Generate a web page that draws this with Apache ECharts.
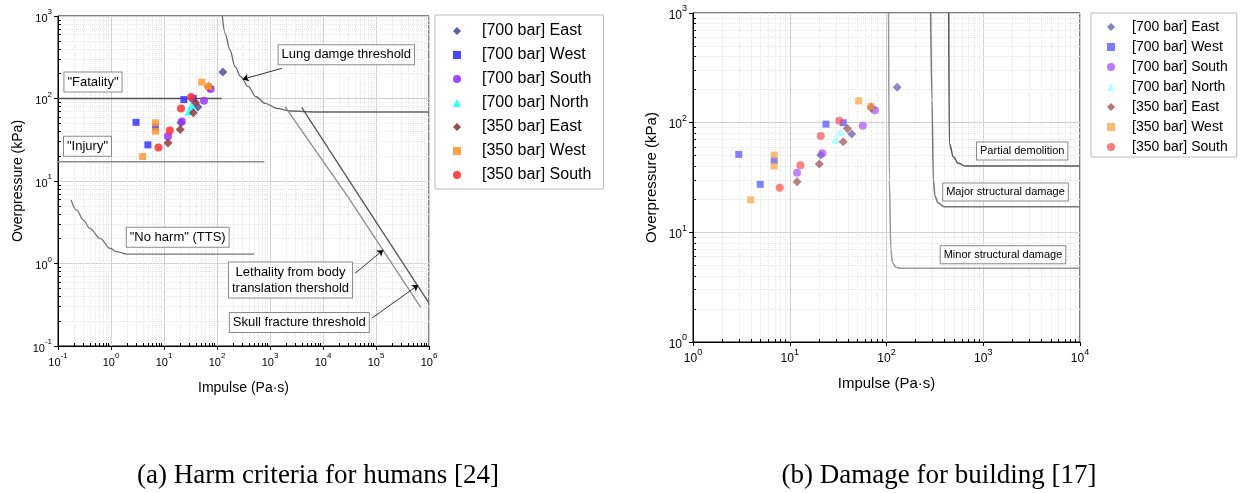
<!DOCTYPE html>
<html>
<head>
<meta charset="utf-8">
<script src="https://cdn.jsdelivr.net/npm/echarts@6/dist/echarts.min.js"></script>
<style>
  html, body { margin: 0; padding: 0; background: #fff; }
  #chart { width: 1243px; height: 493px; }
</style>
</head>
<body>
<div id="chart"></div>
<script>
// series names (same in both panels)
const seriesNames = ['[700 bar] East', '[700 bar] West', '[700 bar] South', '[700 bar] North',
  '[350 bar] East', '[350 bar] West', '[350 bar] South'];

// measured points: [impulse (Pa·s), overpressure (kPa)]
const east700 = [[129, 210], [70, 135], [43.7, 78.7], [20.9, 50.7]];
const west700 = [[2.97, 51.4], [6.9, 45], [4.96, 27.4], [23.7, 97], [35.7, 99.8]];
const south700 = [[76, 130], [56.8, 93.8], [21.7, 52.5], [11.9, 34.9]];
const north700 = [[33.6, 82.6], [29.9, 70.5]];
const east350 = [[69.2, 140], [39.4, 88.7], [35.7, 67], [20.2, 42], [11.9, 28.9]];
const west350 = [[51.6, 158], [69, 140], [6.9, 50.7], [6.9, 40.2], [3.95, 19.8]];
const south350 = [[32.5, 104], [20.9, 75.5], [12.9, 41], [7.87, 25.5]];

// (a) harm criteria curves
const lungDamage = [[126, 1000], [142, 617], [176, 387], [219, 243], [280, 184], [390, 139], [545, 105],
  [805, 87.5], [1340, 76], [2380, 70.5], [7590, 68.6], [1e6, 68.6]];
const fatality = [[0.1, 100], [123, 100]];
const injury = [[0.1, 17.1], [781, 17.1]];
const noHarm = [[0.176, 5.9], [0.225, 4.44], [0.30, 3.36], [0.40, 2.67], [0.62, 2.02], [0.96, 1.53],
  [1.28, 1.39], [1.98, 1.30], [506, 1.30]];
const bodyTranslation = [[1919, 79.6], [32300, 5.89], [697000, 0.294]];
const skullFracture = [[3960, 78.2], [53700, 5.89], [1e6, 0.33]];

// (b) building damage curves
const minorDamage = [[105, 1000], [107, 30], [111, 7], [115, 5.3], [125, 4.8], [140, 4.7], [1e4, 4.7]];
const majorDamage = [[286, 1000], [295, 161], [305, 30], [317, 21.4], [341, 18.5], [393, 17.1], [1e4, 17.1]];
const partialDemolition = [[440, 1000], [446, 65], [490, 48.9], [552, 42.6], [648, 40.2], [1e4, 40.2]];

const pointSets = [east700, west700, south700, north700, east350, west350, south350];
const symbols = ['diamond', 'rect', 'circle', 'triangle', 'diamond', 'rect', 'circle'];
const sizes = [9, 7, 8, 9, 9, 7, 8];
const colorsA = ['#4d4d99', '#3333ff', '#9933ff', '#22ffff', '#8c3a3a', '#ff9933', '#ff3333'];
const colorsB = ['#5a5aa6', '#4d4dff', '#a64dff', '#99ffff', '#9a4a4a', '#ffa040', '#ff4d4d'];

const FONT = '"Liberation Sans", Arial, sans-serif';

// minor grid values k*10^n between min and max
function minorValues(min, max) {
  const out = [];
  for (let e = Math.floor(Math.log10(min)); e < Math.log10(max); e++) {
    for (let k = 2; k <= 9; k++) {
      const v = k * Math.pow(10, e);
      if (v > min && v < max) out.push(v);
    }
  }
  return out;
}

function powLabel(v) {
  const e = Math.round(Math.log10(v));
  return '{b|10}{s|' + e + '}';
}

function logAxis(gridIndex, min, max, split, name, gap, fs, nfs) {
  return {
    type: 'log', logBase: 10, gridIndex, min, max, splitNumber: split,
    name, nameLocation: 'middle', nameGap: gap,
    nameTextStyle: { fontSize: nfs, fontFamily: FONT, color: '#000' },
    axisLine: { lineStyle: { color: '#000', width: 1 } },
    axisTick: { length: 4, lineStyle: { color: '#000' } },
    axisLabel: {
      formatter: powLabel, color: '#000', margin: 6,
      rich: {
        b: { fontSize: fs, fontFamily: FONT, lineHeight: fs + 5, verticalAlign: 'bottom', color: '#000' },
        s: { fontSize: fs - 3, fontFamily: FONT, lineHeight: fs + 5, verticalAlign: 'top', color: '#000' }
      }
    },
    splitLine: { show: true, lineStyle: { color: '#d2d2d2', width: 1 } }
  };
}

// dotted minor grid + short inside minor ticks, on an empty helper series
function minorGrid(idx, xmin, xmax, ymin, ymax, w, h) {
  const xs = minorValues(xmin, xmax), ys = minorValues(ymin, ymax);
  const fy = Math.pow(10, 3 * Math.log10(ymax / ymin) / h);
  const fx = Math.pow(10, 3 * Math.log10(xmax / xmin) / w);
  return [{
    type: 'line', xAxisIndex: idx, yAxisIndex: idx, data: [], z: 1, silent: true,
    markLine: {
      z: 0, silent: true, symbol: 'none', animation: false, label: { show: false },
      lineStyle: { color: '#e6e6e6', type: 'dotted', width: 1 },
      data: xs.map(v => ({ xAxis: v })).concat(ys.map(v => ({ yAxis: v })))
    }
  }, {
    type: 'line', xAxisIndex: idx, yAxisIndex: idx, data: [], z: 1, silent: true,
    markLine: {
      z: 1, silent: true, symbol: 'none', animation: false, label: { show: false },
      lineStyle: { color: '#000', type: 'solid', width: 1 },
      data: xs.map(v => [{ coord: [v, ymin] }, { coord: [v, ymin * fy] }])
        .concat(ys.map(v => [{ coord: [xmin, v] }, { coord: [xmin * fx, v] }]))
    }
  }];
}

function curve(idx, data, color, width, smooth, extra) {
  return Object.assign({
    type: 'line', xAxisIndex: idx, yAxisIndex: idx, data, showSymbol: false, symbol: 'none',
    smooth: smooth ? 0.35 : false, smoothMonotone: 'x', z: 2, silent: true,
    lineStyle: { color, width }
  }, extra || {});
}

const scatterA = pointSets.map((d, i) => ({
  type: 'scatter', name: seriesNames[i], xAxisIndex: 0, yAxisIndex: 0, data: d, z: 3,
  symbol: symbols[i], symbolSize: sizes[i],
  itemStyle: { color: colorsA[i], opacity: 0.85 }
}));
const scatterB = pointSets.map((d, i) => ({
  type: 'scatter', name: seriesNames[i], xAxisIndex: 1, yAxisIndex: 1, data: d, z: 3,
  symbol: symbols[i], symbolSize: sizes[i],
  itemStyle: { color: colorsB[i], opacity: 0.7 }
}));

const arrowStyle = {
  silent: true, symbol: ['none', 'arrow'], symbolSize: 6, animation: false,
  label: { show: false }, lineStyle: { color: '#000', width: 0.8, type: 'solid' }
};

function legendFor(left, top, fs, gap, pad, txtPad, colors, opacity) {
  return {
    orient: 'vertical', left, top, itemWidth: 8, itemHeight: 8, itemGap: gap,
    padding: pad, borderColor: '#bbb', borderWidth: 1,
    selectedMode: false,
    data: seriesNames.map((n, i) => ({
      name: n, icon: symbols[i],
      itemStyle: { color: colors[i], opacity }
    })),
    formatter: '{t|{name}}',
    textStyle: {
      color: '#000', fontFamily: FONT, fontSize: fs,
      rich: { t: { fontSize: fs, fontFamily: FONT, color: '#000', lineHeight: fs, padding: [0, 0, 0, txtPad] } }
    }
  };
}

function box(cx, cy, text, fs) {
  return {
    type: 'text', x: cx, y: cy, z: 10, silent: true,
    style: {
      text, font: fs + 'px ' + FONT, fill: '#000', align: 'center', verticalAlign: 'middle',
      backgroundColor: '#fff', borderColor: '#8a8a8a', borderWidth: 1, padding: [2, 3, 1, 3],
      lineHeight: fs + 3
    }
  };
}

const option = {
  animation: false,
  backgroundColor: '#fff',
  grid: [
    { left: 58, top: 16, width: 371, height: 330, show: true, borderColor: '#000', borderWidth: 1 },
    { left: 693, top: 13, width: 387, height: 329, show: true, borderColor: '#000', borderWidth: 1 }
  ],
  xAxis: [
    logAxis(0, 0.1, 1e6, 7, 'Impulse (Pa·s)', 35, 11, 14),
    logAxis(1, 1, 1e4, 4, 'Impulse (Pa·s)', 34, 12, 15)
  ],
  yAxis: [
    logAxis(0, 0.1, 1000, 4, 'Overpressure (kPa)', 33, 11, 14),
    logAxis(1, 1, 1000, 3, 'Overpressure (kPa)', 34, 12, 15)
  ],
  legend: [
    legendFor(435, 15, 16, 8, [8, 12, 6, 18], 16, colorsA, 0.9),
    legendFor(1091, 13, 14, 6, [7, 9, 3, 16], 12, colorsB, 0.75)
  ],
  series: [].concat(
    minorGrid(0, 0.1, 1e6, 0.1, 1000, 371, 330),
    minorGrid(1, 1, 1e4, 1, 1000, 387, 329),
    [
      curve(0, fatality, '#555', 1.5, false),
      curve(0, injury, '#8c8c8c', 1.5, false),
      curve(0, lungDamage, '#666', 1.3, true, {
        markLine: Object.assign({}, arrowStyle, {
          data: [
            [{ coord: [1663, 232] }, { coord: [305, 171] }],
            [{ coord: [40200, 0.76] }, { coord: [137000, 1.46] }],
            [{ coord: [83000, 0.217] }, { coord: [628000, 0.548] }]
          ]
        })
      }),
      curve(0, noHarm, '#777', 1.3, true),
      curve(0, bodyTranslation, '#8c8c8c', 1.3, false),
      curve(0, skullFracture, '#555', 1.3, false),
      curve(1, minorDamage, '#999', 1.5, true),
      curve(1, majorDamage, '#777', 1.5, true),
      curve(1, partialDemolition, '#555', 1.5, true)
    ],
    scatterA, scatterB
  ),
  graphic: [
    box(346.3, 54.7, 'Lung damge threshold', 13),
    box(93, 82, '"Fatality"', 13),
    box(87.5, 146.3, '"Injury"', 13),
    box(177.7, 237.2, '"No harm" (TTS)', 13),
    box(290.5, 280, 'Lethality from body\ntranslation thershold', 13),
    box(299.3, 322.5, 'Skull fracture threshold', 13),
    box(1022.2, 151, 'Partial demolition', 11),
    box(1005.5, 192, 'Major structural damage', 11),
    box(1003, 254.7, 'Minor structural damage', 11),
    {
      type: 'text', x: 318, y: 476, silent: true,
      style: { text: '(a) Harm criteria for humans [24]', font: '27px "Liberation Serif", serif',
        fill: '#000', align: 'center', verticalAlign: 'middle' }
    },
    {
      type: 'text', x: 939, y: 476, silent: true,
      style: { text: '(b) Damage for building [17]', font: '27px "Liberation Serif", serif',
        fill: '#000', align: 'center', verticalAlign: 'middle' }
    }
  ]
};

const chart = echarts.init(document.getElementById('chart'));
chart.setOption(option);
window.addEventListener('resize', () => chart.resize());
</script>
</body>
</html>
